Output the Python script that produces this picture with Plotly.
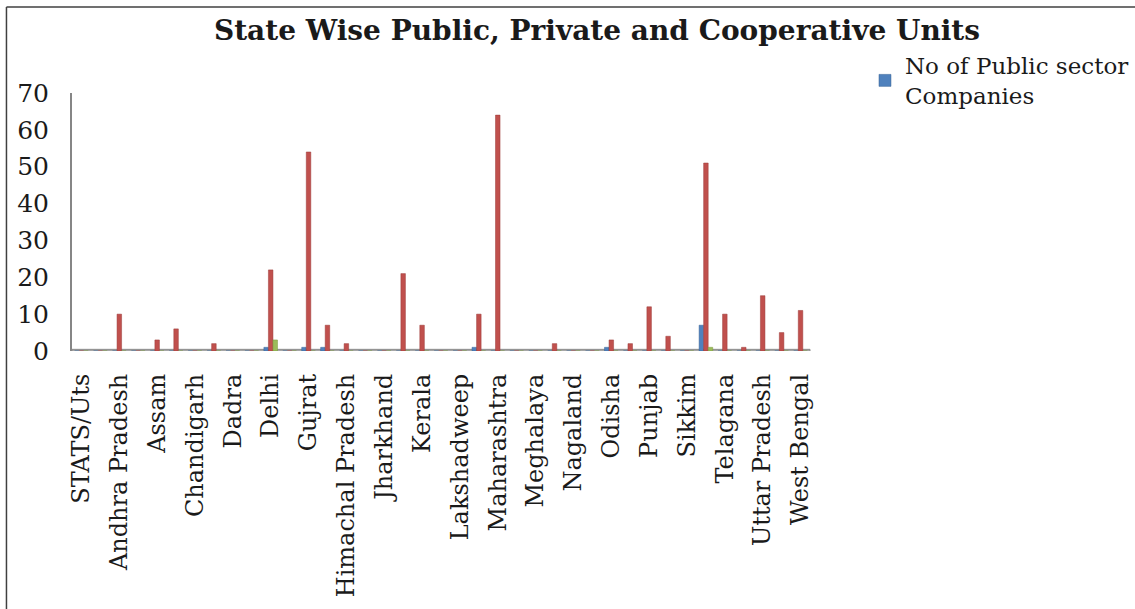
import plotly.graph_objects as go

categories = [
    "STATS/Uts", "Andaman & Nicobar", "Andhra Pradesh", "Arunachal Pradesh", "Assam",
    "Bihar", "Chandigarh", "Chhattisgarh", "Dadra", "Daman & Diu",
    "Delhi", "Goa", "Gujrat", "Haryana", "Himachal Pradesh",
    "Jammu & Kashmir", "Jharkhand", "Karnataka", "Kerala", "Ladakh",
    "Lakshadweep", "Madhya Pradesh", "Maharashtra", "Manipur", "Meghalaya",
    "Mizoram", "Nagaland", "Nagar Haveli", "Odisha", "Puducherry",
    "Punjab", "Rajasthan", "Sikkim", "Tamil Nadu", "Telagana",
    "Tripura", "Uttar Pradesh", "Uttarakhand", "West Bengal",
]
shown_labels = categories[::2]

public_units = [0, 0, 0, 0, 0, 0, 0, 0, 0, 0,
                1, 0, 1, 1, 0, 0, 0, 0, 0, 0,
                0, 1, 0, 0, 0, 0, 0, 0, 1, 0,
                0, 0, 0, 7, 0, 0, 0, 0, 0]
private_units = [0, 0, 10, 0, 3, 6, 0, 2, 0, 0,
                 22, 0, 54, 7, 2, 0, 0, 21, 7, 0,
                 0, 10, 64, 0, 0, 2, 0, 0, 3, 2,
                 12, 4, 0, 51, 10, 1, 15, 5, 11]
coop_units = [0, 0, 0, 0, 0, 0, 0, 0, 0, 0,
              3, 0, 0, 0, 0, 0, 0, 0, 0, 0,
              0, 0, 0, 0, 0, 0, 0, 0, 0, 0,
              0, 0, 0, 1, 0, 0, 0, 0, 0]
y_ticks = [0, 10, 20, 30, 40, 50, 60, 70]

FONT = "DejaVu Serif"

fig = go.Figure()
fig.add_trace(go.Bar(x=categories, y=public_units, name="No of Public sector<br>Companies",
                     marker=dict(color="#4F81BD", line=dict(color="#3A6595", width=0.5))))
fig.add_trace(go.Bar(x=categories, y=private_units, name="No of Private sector Companies",
                     showlegend=False,
                     marker=dict(color="#C0504D", line=dict(color="#9A3B38", width=0.5))))
fig.add_trace(go.Bar(x=categories, y=coop_units, name="No of Cooperative Units",
                     showlegend=False,
                     marker=dict(color="#9BBB59", line=dict(color="#7A9A3E", width=0.5))))

# floor of the chart
fig.add_shape(type="rect", xref="paper", yref="y", x0=0, x1=1.0, y0=-0.9, y1=0.45,
              fillcolor="#A6A6A6", line=dict(color="#8C8C8C", width=1), layer="below")
# outer frame lines (top and left)
fig.add_shape(type="line", xref="paper", yref="paper", x0=-0.0888, x1=1.5, y0=1.3333, y1=1.3333,
              line=dict(color="#404040", width=1.5))
fig.add_shape(type="line", xref="paper", yref="paper", x0=-0.0888, x1=-0.0888, y0=1.3333, y1=-1.05,
              line=dict(color="#404040", width=1.5))

fig.update_layout(
    width=1135, height=609,
    margin=dict(l=72, r=325, t=93, b=258, autoexpand=False),
    paper_bgcolor="white", plot_bgcolor="white",
    barmode="group", bargap=0.28, bargroupgap=0,
    font=dict(family=FONT, color="#1a1a1a"),
    title=dict(text="<b>State Wise Public, Private and Cooperative Units</b>",
               x=0.526, xanchor="center", y=1 - 30 / 609, yanchor="middle",
               font=dict(family=FONT, size=28, color="#1a1a1a")),
    legend=dict(x=1.0745, y=1.19, xanchor="left", yanchor="top",
                font=dict(family=FONT, size=23, color="#1a1a1a"),
                bgcolor="rgba(0,0,0,0)", itemwidth=30, tracegroupgap=0),
    xaxis=dict(tickmode="array", tickvals=shown_labels, ticktext=shown_labels,
               tickangle=-90, tickfont=dict(family=FONT, size=24, color="#1a1a1a"),
               showline=False, showgrid=False, ticks="", ticklabelstandoff=17),
    yaxis=dict(range=[0, 70], tickvals=y_ticks, showgrid=False, zeroline=False,
               showline=True, linecolor="#868686", linewidth=2,
               tickfont=dict(family=FONT, size=25, color="#1a1a1a"), ticks="",
               ticklabelstandoff=16),
)

fig.write_html("out.html")
